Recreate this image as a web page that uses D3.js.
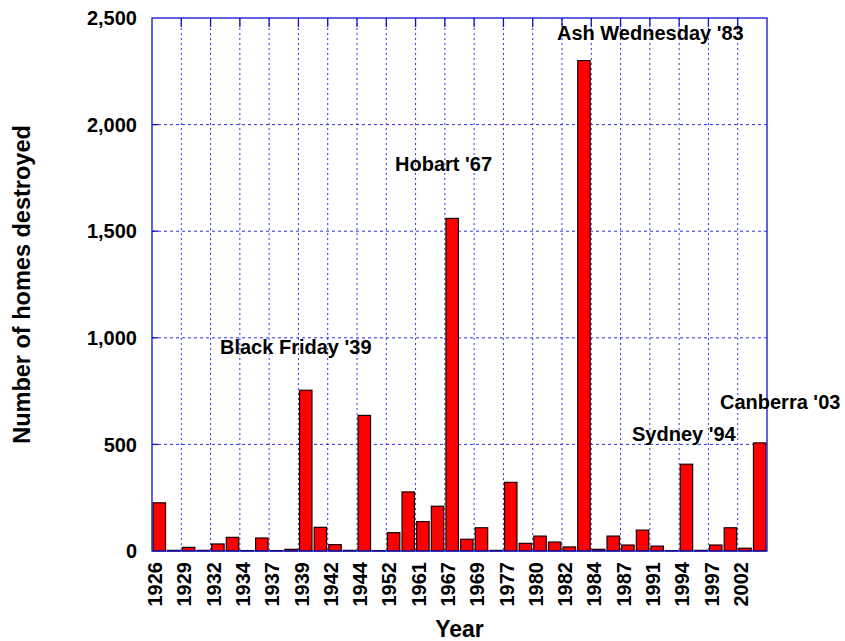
<!DOCTYPE html>
<html>
<head>
<meta charset="utf-8">
<script src="https://cdn.jsdelivr.net/npm/d3@7"></script>
<style>
  body { margin: 0; background: #fff; }
  text { font-family: "Liberation Sans", Arial, Helvetica, sans-serif; font-weight: bold; fill: #000; }
</style>
</head>
<body>
<div id="chart"></div>
<script>
// bushfire years (only every other one is labelled on the axis)
var years = [1926, 1927, 1929, 1931, 1932, 1933, 1934, 1936, 1937, 1938,
    1939, 1940, 1942, 1943, 1944, 1951, 1952, 1957, 1961, 1965,
    1967, 1968, 1969, 1972, 1977, 1979, 1980, 1981, 1982, 1983,
    1984, 1985, 1987, 1990, 1991, 1993, 1994, 1995, 1997, 2001,
    2002, 2003];

var homes = [226, 3, 17, 3, 33, 64, 2, 61, 2, 8,
    754, 111, 30, 3, 636, 2, 86, 277, 138, 210,
    1560, 55, 109, 3, 322, 36, 70, 42, 19, 2300,
    8, 70, 28, 98, 23, 2, 407, 3, 28, 109,
    13, 507];

var yTicks = [0, 500, 1000, 1500, 2000, 2500];

var events = ["Black Friday '39", "Hobart '67", "Ash Wednesday '83", "Sydney '94", "Canberra '03"];

// label placement in pixels (start of text, baseline)
var eventPos = [[220, 354], [395, 171], [557, 40], [632, 441], [720, 409]];

var width = 845, height = 641;
var plot = {left: 152, right: 767, top: 18, bottom: 551};

var svg = d3.select("#chart")
    .append("svg")
    .attr("width", width)
    .attr("height", height);

var x = d3.scaleBand()
    .domain(years)
    .range([plot.left, plot.right])
    .paddingInner(0.15)
    .paddingOuter(0.075);

var y = d3.scaleLinear()
    .domain([0, 2500])
    .range([plot.bottom, plot.top]);

var step = x.step();
// left boundary of each labelled pair of bars
function boundary(i) {
    return plot.left + i * step;
}
var evenIdx = d3.range(0, years.length, 2);

// grid
var grid = svg.append("g").attr("class", "grid");
grid.selectAll("line.v")
    .data(evenIdx.slice(1))
    .enter().append("line")
    .attr("class", "v")
    .attr("x1", function (d) { return boundary(d); })
    .attr("x2", function (d) { return boundary(d); })
    .attr("y1", plot.top)
    .attr("y2", plot.bottom)
    .attr("stroke", "#3030e8")
    .attr("stroke-width", 1)
    .attr("stroke-dasharray", "2,3");

grid.selectAll("line.h")
    .data(yTicks.slice(1, -1))
    .enter().append("line")
    .attr("class", "h")
    .attr("x1", plot.left)
    .attr("x2", plot.right)
    .attr("y1", function (d) { return y(d); })
    .attr("y2", function (d) { return y(d); })
    .attr("stroke", "#3030e8")
    .attr("stroke-width", 1)
    .attr("stroke-dasharray", "3,3");

// bars
svg.append("g")
    .selectAll("rect")
    .data(homes)
    .enter().append("rect")
    .attr("x", function (d, i) { return x(years[i]); })
    .attr("width", x.bandwidth())
    .attr("y", function (d) { return y(d); })
    .attr("height", function (d) { return y(0) - y(d); })
    .attr("fill", "#ff0000")
    .attr("stroke", "#1a0000")
    .attr("stroke-width", 1.2);

// frame + inward ticks
var frame = svg.append("g").attr("class", "frame");
frame.append("rect")
    .attr("x", plot.left)
    .attr("y", plot.top)
    .attr("width", plot.right - plot.left)
    .attr("height", plot.bottom - plot.top)
    .attr("fill", "none")
    .attr("stroke", "#1010d0")
    .attr("stroke-width", 1.3);

frame.selectAll("line.yt")
    .data(yTicks.slice(1, -1))
    .enter().append("line")
    .attr("class", "yt")
    .attr("x1", plot.left).attr("x2", plot.left + 6)
    .attr("y1", function (d) { return y(d); })
    .attr("y2", function (d) { return y(d); })
    .attr("stroke", "#1010d0").attr("stroke-width", 1.3);

frame.selectAll("line.xt")
    .data(evenIdx.slice(1))
    .enter().append("line")
    .attr("class", "xt")
    .attr("x1", function (d) { return boundary(d); })
    .attr("x2", function (d) { return boundary(d); })
    .attr("y1", plot.top).attr("y2", plot.top + 9)
    .attr("stroke", "#1010d0").attr("stroke-width", 1.3);

// y tick labels
svg.append("g")
    .selectAll("text")
    .data(yTicks)
    .enter().append("text")
    .attr("x", 137)
    .attr("y", function (d) { return y(d); })
    .attr("dy", "0.36em")
    .attr("text-anchor", "end")
    .style("font-size", "20px")
    .text(d3.format(","));

// x tick labels
svg.append("g")
    .selectAll("text")
    .data(evenIdx)
    .enter().append("text")
    .attr("transform", function (d) {
        return "translate(" + (boundary(d) + 3) + ",562) rotate(-90)";
    })
    .attr("dy", "0.36em")
    .attr("text-anchor", "end")
    .style("font-size", "20px")
    .text(function (d) { return years[d]; });

// axis titles
svg.append("text")
    .attr("x", (plot.left + plot.right) / 2)
    .attr("y", 637)
    .attr("text-anchor", "middle")
    .style("font-size", "23px")
    .text("Year");

svg.append("text")
    .attr("transform", "translate(30," + ((plot.top + plot.bottom) / 2) + ") rotate(-90)")
    .attr("text-anchor", "middle")
    .style("font-size", "23.5px")
    .text("Number of homes destroyed");

// event annotations
svg.append("g")
    .selectAll("text")
    .data(events)
    .enter().append("text")
    .attr("x", function (d, i) { return eventPos[i][0]; })
    .attr("y", function (d, i) { return eventPos[i][1]; })
    .style("font-size", "20px")
    .text(function (d) { return d; });
</script>
</body>
</html>
